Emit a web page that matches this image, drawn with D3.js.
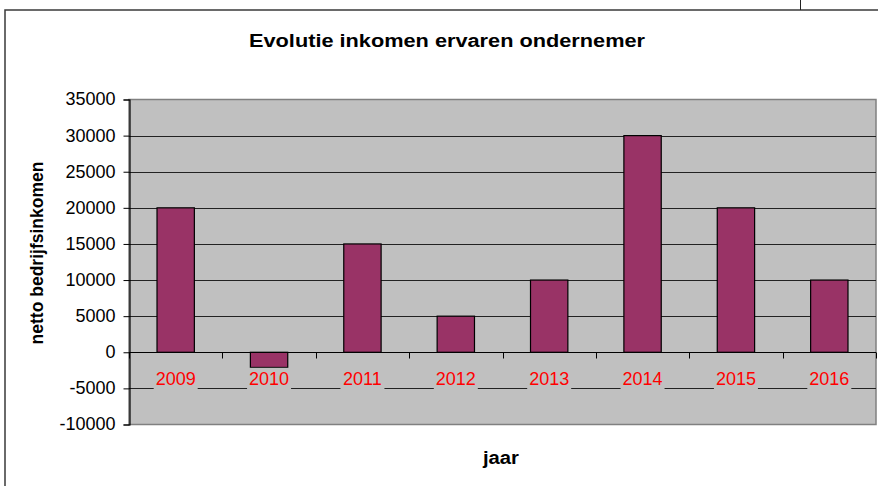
<!DOCTYPE html>
<html>
<head>
<meta charset="utf-8">
<script src="https://cdn.jsdelivr.net/npm/d3@7"></script>
<style>
  body { margin: 0; background: #fff; }
  svg { display: block; font-family: "Liberation Sans", Arial, sans-serif; }
</style>
</head>
<body>
<svg width="878" height="486"></svg>
<script>
var years = ['2009', '2010', '2011', '2012', '2013', '2014', '2015', '2016'];
var income = [20000, -2100, 15000, 5000, 10000, 30000, 20000, 10000];
var yTicks = [-10000, -5000, 0, 5000, 10000, 15000, 20000, 25000, 30000, 35000];

var chartTitle = 'Evolutie inkomen ervaren ondernemer';
var xTitle = 'jaar';
var yTitle = 'netto bedrijfsinkomen';

var svg = d3.select('svg');
// note: "top" is taken by window.top, so plot edges get their own names
var plotLeft = 129, plotRight = 876, plotTop = 99.5, plotBottom = 424.5;

var x = d3.scaleBand()
  .domain(years)
  .range([plotLeft, plotRight])
  .paddingInner(0.6)
  .paddingOuter(0.3);
var step = x.step();

var y = d3.scaleLinear()
  .domain([-10000, 35000])
  .range([plotBottom, plotTop]);

// outer chart frame (runs off the right and bottom of the picture)
svg.append('rect')
  .attr('x', 5).attr('y', 10)
  .attr('width', 900).attr('height', 500)
  .attr('fill', '#fff')
  .attr('stroke', '#3a3a3a')
  .attr('stroke-width', 1.5);

// bit of a cell border above the chart
svg.append('line')
  .attr('x1', 800.5).attr('x2', 800.5)
  .attr('y1', 0).attr('y2', 10)
  .attr('stroke', '#222');

// plot area
svg.append('rect')
  .attr('x', plotLeft).attr('y', plotTop)
  .attr('width', plotRight - plotLeft).attr('height', plotBottom - plotTop)
  .attr('fill', '#c0c0c0')
  .attr('stroke', '#808080')
  .attr('stroke-width', 1.5);

// gridlines
svg.append('g')
  .selectAll('line')
  .data(yTicks.filter(function(d){ return d > -10000 && d < 35000 && d !== 0; }))
  .enter()
  .append('line')
  .attr('x1', plotLeft).attr('x2', plotRight)
  .attr('y1', function(d){ return Math.round(y(d)) + 0.5; })
  .attr('y2', function(d){ return Math.round(y(d)) + 0.5; })
  .attr('stroke', '#222');

// bars
svg.append('g')
  .selectAll('rect')
  .data(income)
  .enter()
  .append('rect')
  .attr('x', function(d, i){ return x(years[i]); })
  .attr('width', x.bandwidth())
  .attr('y', function(d){ return y(Math.max(0, d)); })
  .attr('height', function(d){ return Math.abs(y(d) - y(0)); })
  .attr('fill', '#993366')
  .attr('stroke', '#000')
  .attr('stroke-width', 1.2);

// category axis at zero
var zeroY = Math.round(y(0)) + 0.5;
svg.append('line')
  .attr('x1', plotLeft).attr('x2', plotRight)
  .attr('y1', zeroY).attr('y2', zeroY)
  .attr('stroke', '#000')
  .attr('stroke-width', 1.2);

svg.append('g')
  .selectAll('line')
  .data(years.concat(['end']))
  .enter()
  .append('line')
  .attr('x1', function(d, i){ return Math.round(plotLeft + i * step) + 0.5; })
  .attr('x2', function(d, i){ return Math.round(plotLeft + i * step) + 0.5; })
  .attr('y1', zeroY)
  .attr('y2', zeroY + 6)
  .attr('stroke', '#000');

// category labels, with plot-coloured boxes behind them
var labels = svg.append('g')
  .selectAll('g')
  .data(years)
  .enter()
  .append('g')
  .attr('transform', function(d){
    return 'translate(' + (x(d) + x.bandwidth() / 2) + ',' + (y(0) + 33) + ')';
  });

labels.append('rect')
  .attr('x', -22).attr('y', -17.5)
  .attr('width', 44).attr('height', 23)
  .attr('fill', '#c0c0c0');

labels.append('text')
  .attr('text-anchor', 'middle')
  .attr('font-size', '18px')
  .attr('fill', '#ff0000')
  .text(function(d){ return d; });

// value axis (plain hyphen for negatives, like the original)
var yAxis = d3.axisLeft(y)
  .tickValues(yTicks)
  .tickSize(6)
  .tickPadding(8)
  .tickFormat(function(d){ return String(d); });

var ya = svg.append('g')
  .attr('transform', 'translate(' + (plotLeft + 0.5) + ',0)')
  .call(yAxis);
ya.select('.domain').attr('stroke', '#000').attr('stroke-width', 1.2);
ya.selectAll('.tick line').attr('stroke', '#000');
ya.selectAll('.tick text')
  .attr('font-family', '"Liberation Sans", Arial, sans-serif')
  .attr('font-size', '18px')
  .attr('fill', '#000')
  .attr('dy', '0.3em');

// titles (glyphs stretched a little, the way the original renders them)
svg.append('text')
  .attr('x', 447).attr('y', 46.5)
  .attr('text-anchor', 'middle')
  .attr('font-size', '18px')
  .attr('font-weight', 'bold')
  .attr('textLength', 396)
  .attr('lengthAdjust', 'spacingAndGlyphs')
  .text(chartTitle);

svg.append('text')
  .attr('x', 501).attr('y', 464)
  .attr('text-anchor', 'middle')
  .attr('font-size', '18px')
  .attr('font-weight', 'bold')
  .attr('textLength', 36)
  .attr('lengthAdjust', 'spacingAndGlyphs')
  .text(xTitle);

svg.append('text')
  .attr('transform', 'translate(43,253) rotate(-90)')
  .attr('text-anchor', 'middle')
  .attr('font-size', '17.5px')
  .attr('font-weight', 'bold')
  .text(yTitle);
</script>
</body>
</html>
